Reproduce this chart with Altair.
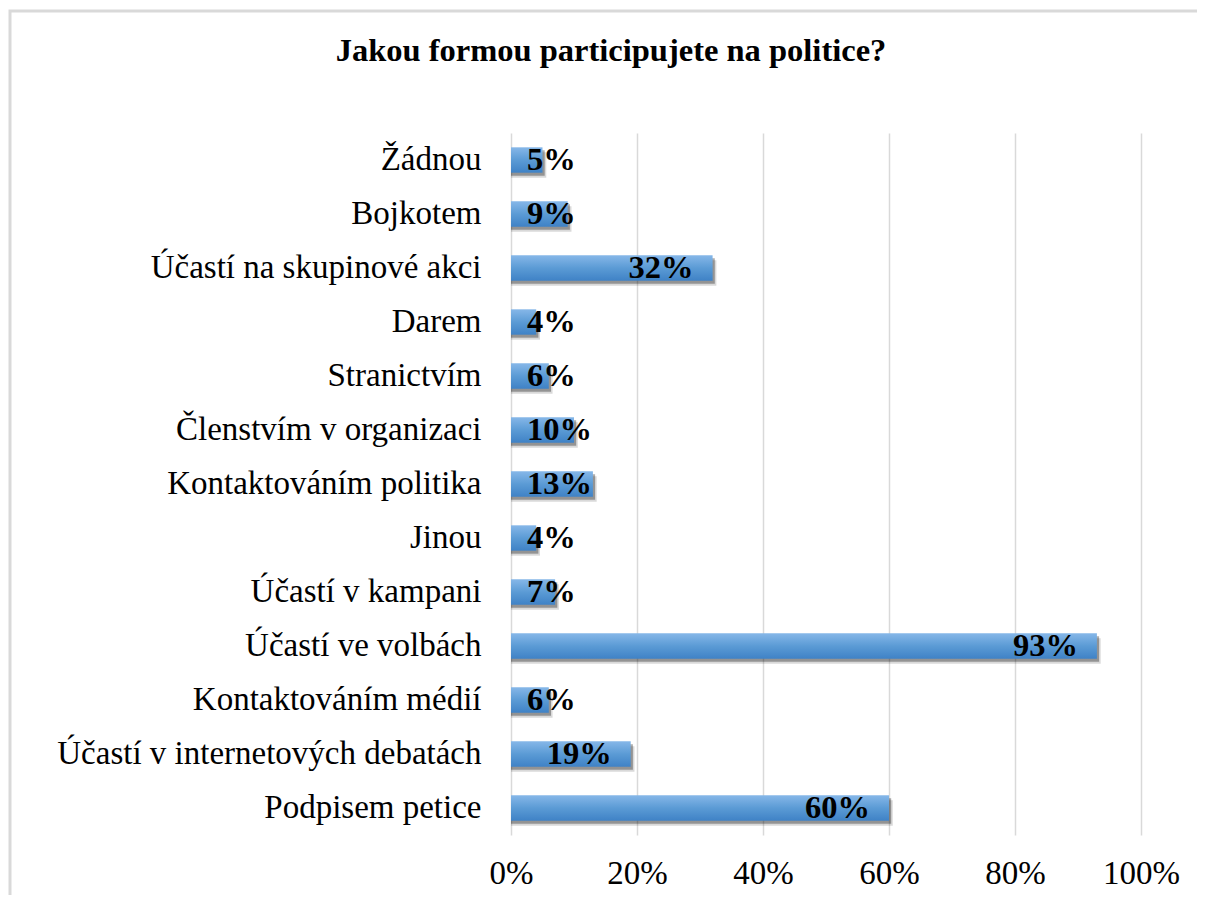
import altair as alt
import pandas as pd

categories = [
    "Žádnou",
    "Bojkotem",
    "Účastí na skupinové akci",
    "Darem",
    "Stranictvím",
    "Členstvím v organizaci",
    "Kontaktováním politika",
    "Jinou",
    "Účastí v kampani",
    "Účastí ve volbách",
    "Kontaktováním médií",
    "Účastí v internetových debatách",
    "Podpisem petice",
]
values = [5, 9, 32, 4, 6, 10, 13, 4, 7, 93, 6, 19, 60]
tick_values = [0, 20, 40, 60, 80, 100]
title_text = "Jakou formou participujete na politice?"

df = pd.DataFrame({"cat": categories, "v": values})
df["label"] = [f"{v}%" for v in values]

FONT = "Liberation Serif"

xscale = alt.Scale(domain=[0, 100], nice=False)
yscale = alt.Scale(paddingInner=0.53, paddingOuter=0.265)

yax = alt.Axis(labelFont=FONT, labelFontSize=33, labelColor="#000",
               labelPadding=30, ticks=False, domain=False, labelLimit=700,
               grid=False)
xax = alt.Axis(values=tick_values, labelExpr="datum.value + '%'",
               labelFont=FONT, labelFontSize=33, labelColor="#000",
               labelFlush=False, labelAlign="center",
               grid=True, gridColor="#d9d9d9", gridWidth=1.5,
               ticks=False, domain=False, labelPadding=22)


def Y():
    return alt.Y("cat:N", sort=categories, title=None, scale=yscale, axis=yax)


def X(field):
    return alt.X(field, title=None, scale=xscale, axis=xax)


base = alt.Chart(df)
one = alt.Chart(pd.DataFrame({"t": [title_text]}))

frame = one.mark_rect(
    filled=False, stroke="#d9d9d9", strokeWidth=3
).encode(x=alt.value(-501), x2=alt.value(720), y=alt.value(-122), y2=alt.value(800))

title = one.mark_text(
    align="center", baseline="alphabetic", font=FONT, fontSize=32.5,
    fontWeight="bold", color="#000"
).encode(x=alt.value(100), y=alt.value(-72), text="t:N")

shadow1 = base.transform_calculate(vs="datum.v + 0.6").mark_bar(
    color="#000000", opacity=0.15
).encode(x=X("vs:Q"), y=Y(), yOffset=alt.value(5))

shadow2 = base.transform_calculate(vs="datum.v + 0.35").mark_bar(
    color="#000000", opacity=0.32
).encode(x=X("vs:Q"), y=Y(), yOffset=alt.value(3))

grad = alt.Gradient(
    gradient="linear",
    stops=[
        alt.GradientStop(color="#86b7e8", offset=0),
        alt.GradientStop(color="#5b9bd5", offset=0.5),
        alt.GradientStop(color="#3f82c6", offset=1),
    ],
    x1=0, x2=0, y1=0, y2=1,
)

bars = base.mark_bar(color=grad).encode(x=X("v:Q"), y=Y())

lbl_big = base.transform_filter("datum.v >= 15").mark_text(
    align="right", baseline="middle", dx=-19, font=FONT, fontSize=32.5,
    fontWeight="bold", color="#000"
).encode(x=X("v:Q"), y=Y(), text="label:N")

lbl_small = base.transform_filter("datum.v < 15").mark_text(
    align="left", baseline="middle", dx=16, font=FONT, fontSize=32.5,
    fontWeight="bold", color="#000"
).encode(x=alt.datum(0, scale=xscale, axis=xax, title=None), y=Y(), text="label:N")

chart = alt.layer(shadow1, shadow2, bars, lbl_big, lbl_small, frame, title).properties(
    width=630,
    height=702,
    autosize=alt.AutoSizeParams(type="none"),
    padding={"left": 503, "top": 125, "right": 56, "bottom": 60},
).configure_view(strokeWidth=0)

chart.save("out.html", embed_options={"renderer": "svg", "actions": False})
